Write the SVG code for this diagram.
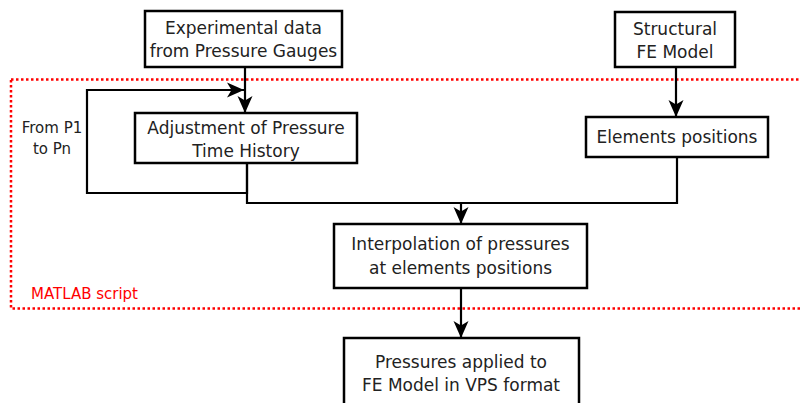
<svg xmlns="http://www.w3.org/2000/svg" width="800" height="403" viewBox="0 0 800 403">
<style>
.box{fill:#fff;stroke:#000;stroke-width:2.5}
.t{font-family:"DejaVu Sans",Verdana,sans-serif;font-size:17px;fill:#222;text-anchor:middle}
.s{font-family:"DejaVu Sans",Verdana,sans-serif;font-size:15px;fill:#222;text-anchor:middle}
.c{fill:none;stroke:#000;stroke-width:2.2}
</style>
<defs>
<marker id="ah" markerUnits="userSpaceOnUse" markerWidth="18" markerHeight="18" viewBox="0 0 18 18" refX="17" refY="9" orient="auto">
<path d="M0,1.5 L17,9 L0,16.5 L4.5,9 z" fill="#000"/>
</marker>
</defs>
<rect x="11" y="79.5" width="800" height="229" fill="none" stroke="#f00" stroke-width="2.5" stroke-dasharray="2.5,2.5"/>
<text x="84.5" y="299" class="s" style="fill:#f00">MATLAB script</text>
<g id="connectors">
<path class="c" d="M245,67 V113" marker-end="url(#ah)"/>
<path class="c" d="M247,163 V193 H87 V90 H244" marker-end="url(#ah)"/>
<path class="c" d="M247,163 V203 H677 V157"/>
<path class="c" d="M461,203 V224" marker-end="url(#ah)"/>
<path class="c" d="M676,67 V117" marker-end="url(#ah)"/>
<path class="c" d="M461,288 V338" marker-end="url(#ah)"/>
</g>
<text x="52" y="133" class="s">From P1</text>
<text x="52" y="154" class="s">to Pn</text>
<g id="n1"><rect class="box" x="145" y="11" width="197" height="56"/>
<text x="243.5" y="34" class="t">Experimental data</text><text x="243.5" y="57" class="t">from Pressure Gauges</text></g>
<g id="n2"><rect class="box" x="615" y="12" width="120" height="55"/>
<text x="675" y="35" class="t">Structural</text><text x="675" y="58" class="t">FE Model</text></g>
<g id="n3"><rect class="box" x="135" y="113" width="222" height="50"/>
<text x="246" y="134" class="t">Adjustment of Pressure</text><text x="246" y="157" class="t">Time History</text></g>
<g id="n4"><rect class="box" x="586" y="117" width="182" height="40"/>
<text x="677" y="143" class="t">Elements positions</text></g>
<g id="n5"><rect class="box" x="334" y="224" width="253" height="64"/>
<text x="460.5" y="250" class="t">Interpolation of pressures</text><text x="460.5" y="274" class="t">at elements positions</text></g>
<g id="n6"><rect class="box" x="344" y="338" width="235" height="80"/>
<text x="461" y="368" class="t">Pressures applied to</text><text x="461" y="391" class="t">FE Model in VPS format</text></g>
</svg>
